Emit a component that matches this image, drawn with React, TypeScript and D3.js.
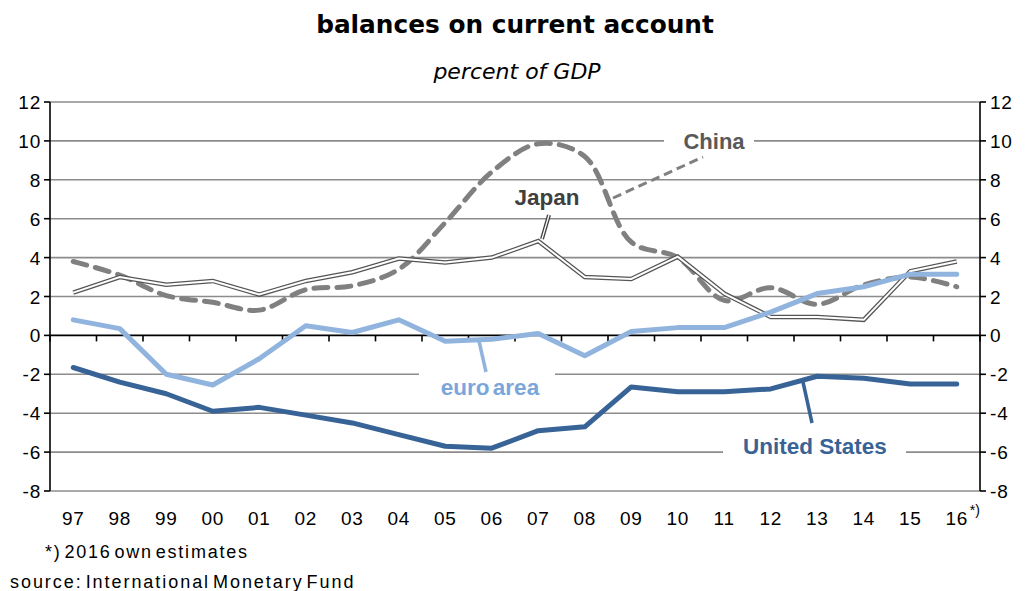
import React from "react";
import * as d3 from "d3";

const years = ["97","98","99","00","01","02","03","04","05","06","07","08","09","10","11","12","13","14","15","16"];
const unitedStates = [-1.65,-2.4,-3.0,-3.9,-3.7,-4.1,-4.5,-5.1,-5.7,-5.8,-4.9,-4.7,-2.65,-2.9,-2.9,-2.75,-2.1,-2.2,-2.5,-2.5];
const euroArea = [0.8,0.35,-2.0,-2.55,-1.2,0.5,0.15,0.8,-0.3,-0.2,0.1,-1.05,0.2,0.4,0.4,1.2,2.15,2.5,3.15,3.15];
const japan = [2.2,3.0,2.6,2.8,2.1,2.8,3.25,3.95,3.75,4.0,4.85,3.0,2.9,4.05,2.15,0.95,0.95,0.8,3.3,3.8];
const china = [3.8,3.1,2.05,1.7,1.3,2.35,2.55,3.4,5.8,8.4,9.85,9.2,4.8,4.0,1.8,2.45,1.6,2.6,3.0,2.5];
const yTicks = [-8,-6,-4,-2,0,2,4,6,8,10,12];

const W = 1026, H = 591;
const left = 50, right = 980, top = 102, bottom = 491;

export default function App() {
  const x = d3.scaleBand<string>().domain(years).range([left, right]).paddingInner(0).paddingOuter(0);
  const xc = (i: number) => (x(years[i]) as number) + x.bandwidth() / 2;
  const y = d3.scaleLinear().domain([-8, 12]).range([bottom, top]);
  const line = d3.line<number>().x((_, i) => xc(i)).y((v) => y(v));
  const smooth = d3.line<number>().x((_, i) => xc(i)).y((v) => y(v)).curve(d3.curveCatmullRom.alpha(0.5));
  const font = "'Liberation Sans', Arial, sans-serif";
  const vfont = "'DejaVu Sans', Verdana, sans-serif";
  const grid = "#8c8c8c";
  const usC = "#386396";
  const euC = "#90B4DE";
  const euLabel = "#7AA6DC";
  const boundaries = years.map((_, i) => left + i * x.bandwidth()).concat([right]);
  const tickFs = 19;
  const tickLs = 0.8;

  return (
    <svg width={W} height={H} style={{ position: "absolute", left: 0, top: 0, background: "#fff" }} fontFamily={font}>
      <text x={515} y={33} textAnchor="middle" fontSize={24.8} fontWeight="bold" fill="#000" fontFamily={vfont}>balances on current account</text>
      <text x={517} y={79} textAnchor="middle" fontSize={22} fontStyle="italic" fill="#000" fontFamily={vfont}>percent of GDP</text>

      {yTicks.filter((t) => t !== 0).map((t) => (
        <line key={t} x1={left} x2={right} y1={y(t)} y2={y(t)} stroke={grid} strokeWidth={1.6} />
      ))}

      {/* label boxes breaking the gridlines */}
      <rect x={664} y={128} width={90} height={26} fill="#fff" />
      <rect x={494} y={183} width={93} height={26} fill="#fff" />
      <rect x={419} y={363} width={136} height={28} fill="#fff" />
      <rect x={723} y={432} width={183} height={28} fill="#fff" />

      {/* axes */}
      <line x1={left} x2={left} y1={top} y2={bottom} stroke="#000" strokeWidth={1.6} />
      <line x1={right} x2={right} y1={top} y2={bottom} stroke="#000" strokeWidth={1.6} />
      {yTicks.map((t) => (
        <g key={"t" + t}>
          <line x1={left - 6} x2={left} y1={y(t)} y2={y(t)} stroke="#000" strokeWidth={1.6} />
          <line x1={right} x2={right + 6} y1={y(t)} y2={y(t)} stroke="#000" strokeWidth={1.6} />
          <text x={left - 9} y={y(t) + 7} textAnchor="end" fontSize={tickFs} letterSpacing={tickLs} fill="#000">{t}</text>
          <text x={right + 10} y={y(t) + 7} textAnchor="start" fontSize={tickFs} letterSpacing={tickLs} fill="#000">{t}</text>
        </g>
      ))}
      <line x1={left} x2={right} y1={y(0)} y2={y(0)} stroke="#000" strokeWidth={1.6} />
      {boundaries.map((b, i) => (
        <line key={"b" + i} x1={b} x2={b} y1={y(0)} y2={y(0) + 6} stroke="#000" strokeWidth={1.6} />
      ))}
      {years.map((yr, i) => (
        <text key={yr} x={xc(i)} y={525} textAnchor="middle" fontSize={tickFs} letterSpacing={tickLs} fill="#000">{yr}</text>
      ))}
      <text x={xc(19) + 13} y={515} fontSize={14} fill="#000">*)</text>

      {/* series */}
      <path d={smooth(china) || ""} fill="none" stroke="#808080" strokeWidth={5} strokeDasharray="14 9" strokeLinecap="round" strokeLinejoin="round" />
      <path d={line(japan) || ""} fill="none" stroke="#555" strokeWidth={4.5} strokeLinejoin="miter" />
      <path d={line(japan) || ""} fill="none" stroke="#fff" strokeWidth={2} strokeLinejoin="miter" />
      <path d={line(euroArea) || ""} fill="none" stroke={euC} strokeWidth={5} strokeLinejoin="round" strokeLinecap="round" />
      <path d={line(unitedStates) || ""} fill="none" stroke={usC} strokeWidth={5} strokeLinejoin="round" strokeLinecap="round" />

      {/* annotations */}
      <line x1={613} y1={198} x2={703} y2={157} stroke="#808080" strokeWidth={3} strokeDasharray="9 5" />
      <text x={714} y={149} textAnchor="middle" fontSize={22} fontWeight="bold" fill="#595959">China</text>

      <line x1={549} y1={215} x2={542} y2={239} stroke="#404040" strokeWidth={4} />
      <line x1={549} y1={215} x2={542} y2={239} stroke="#fff" strokeWidth={1.3} />
      <text x={547} y={205} textAnchor="middle" fontSize={22.5} fontWeight="bold" fill="#404040">Japan</text>

      <line x1={479} y1={341} x2={486} y2={372} stroke={euC} strokeWidth={3.5} />
      <text x={490} y={395} textAnchor="middle" fontSize={22.5} fontWeight="bold" fill={euLabel} wordSpacing={-3}>euro area</text>

      <line x1={803} y1={382} x2={812} y2={423} stroke={usC} strokeWidth={3.5} />
      <text x={815} y={454} textAnchor="middle" fontSize={22.5} fontWeight="bold" fill={usC}>United States</text>

      <text x={45} y={558} fontSize={18} letterSpacing={1.8} wordSpacing={-4} fill="#000">*) 2016 own estimates</text>
      <text x={10} y={588} fontSize={18} letterSpacing={1.95} wordSpacing={-4} fill="#000">source: International Monetary Fund</text>
    </svg>
  );
}
